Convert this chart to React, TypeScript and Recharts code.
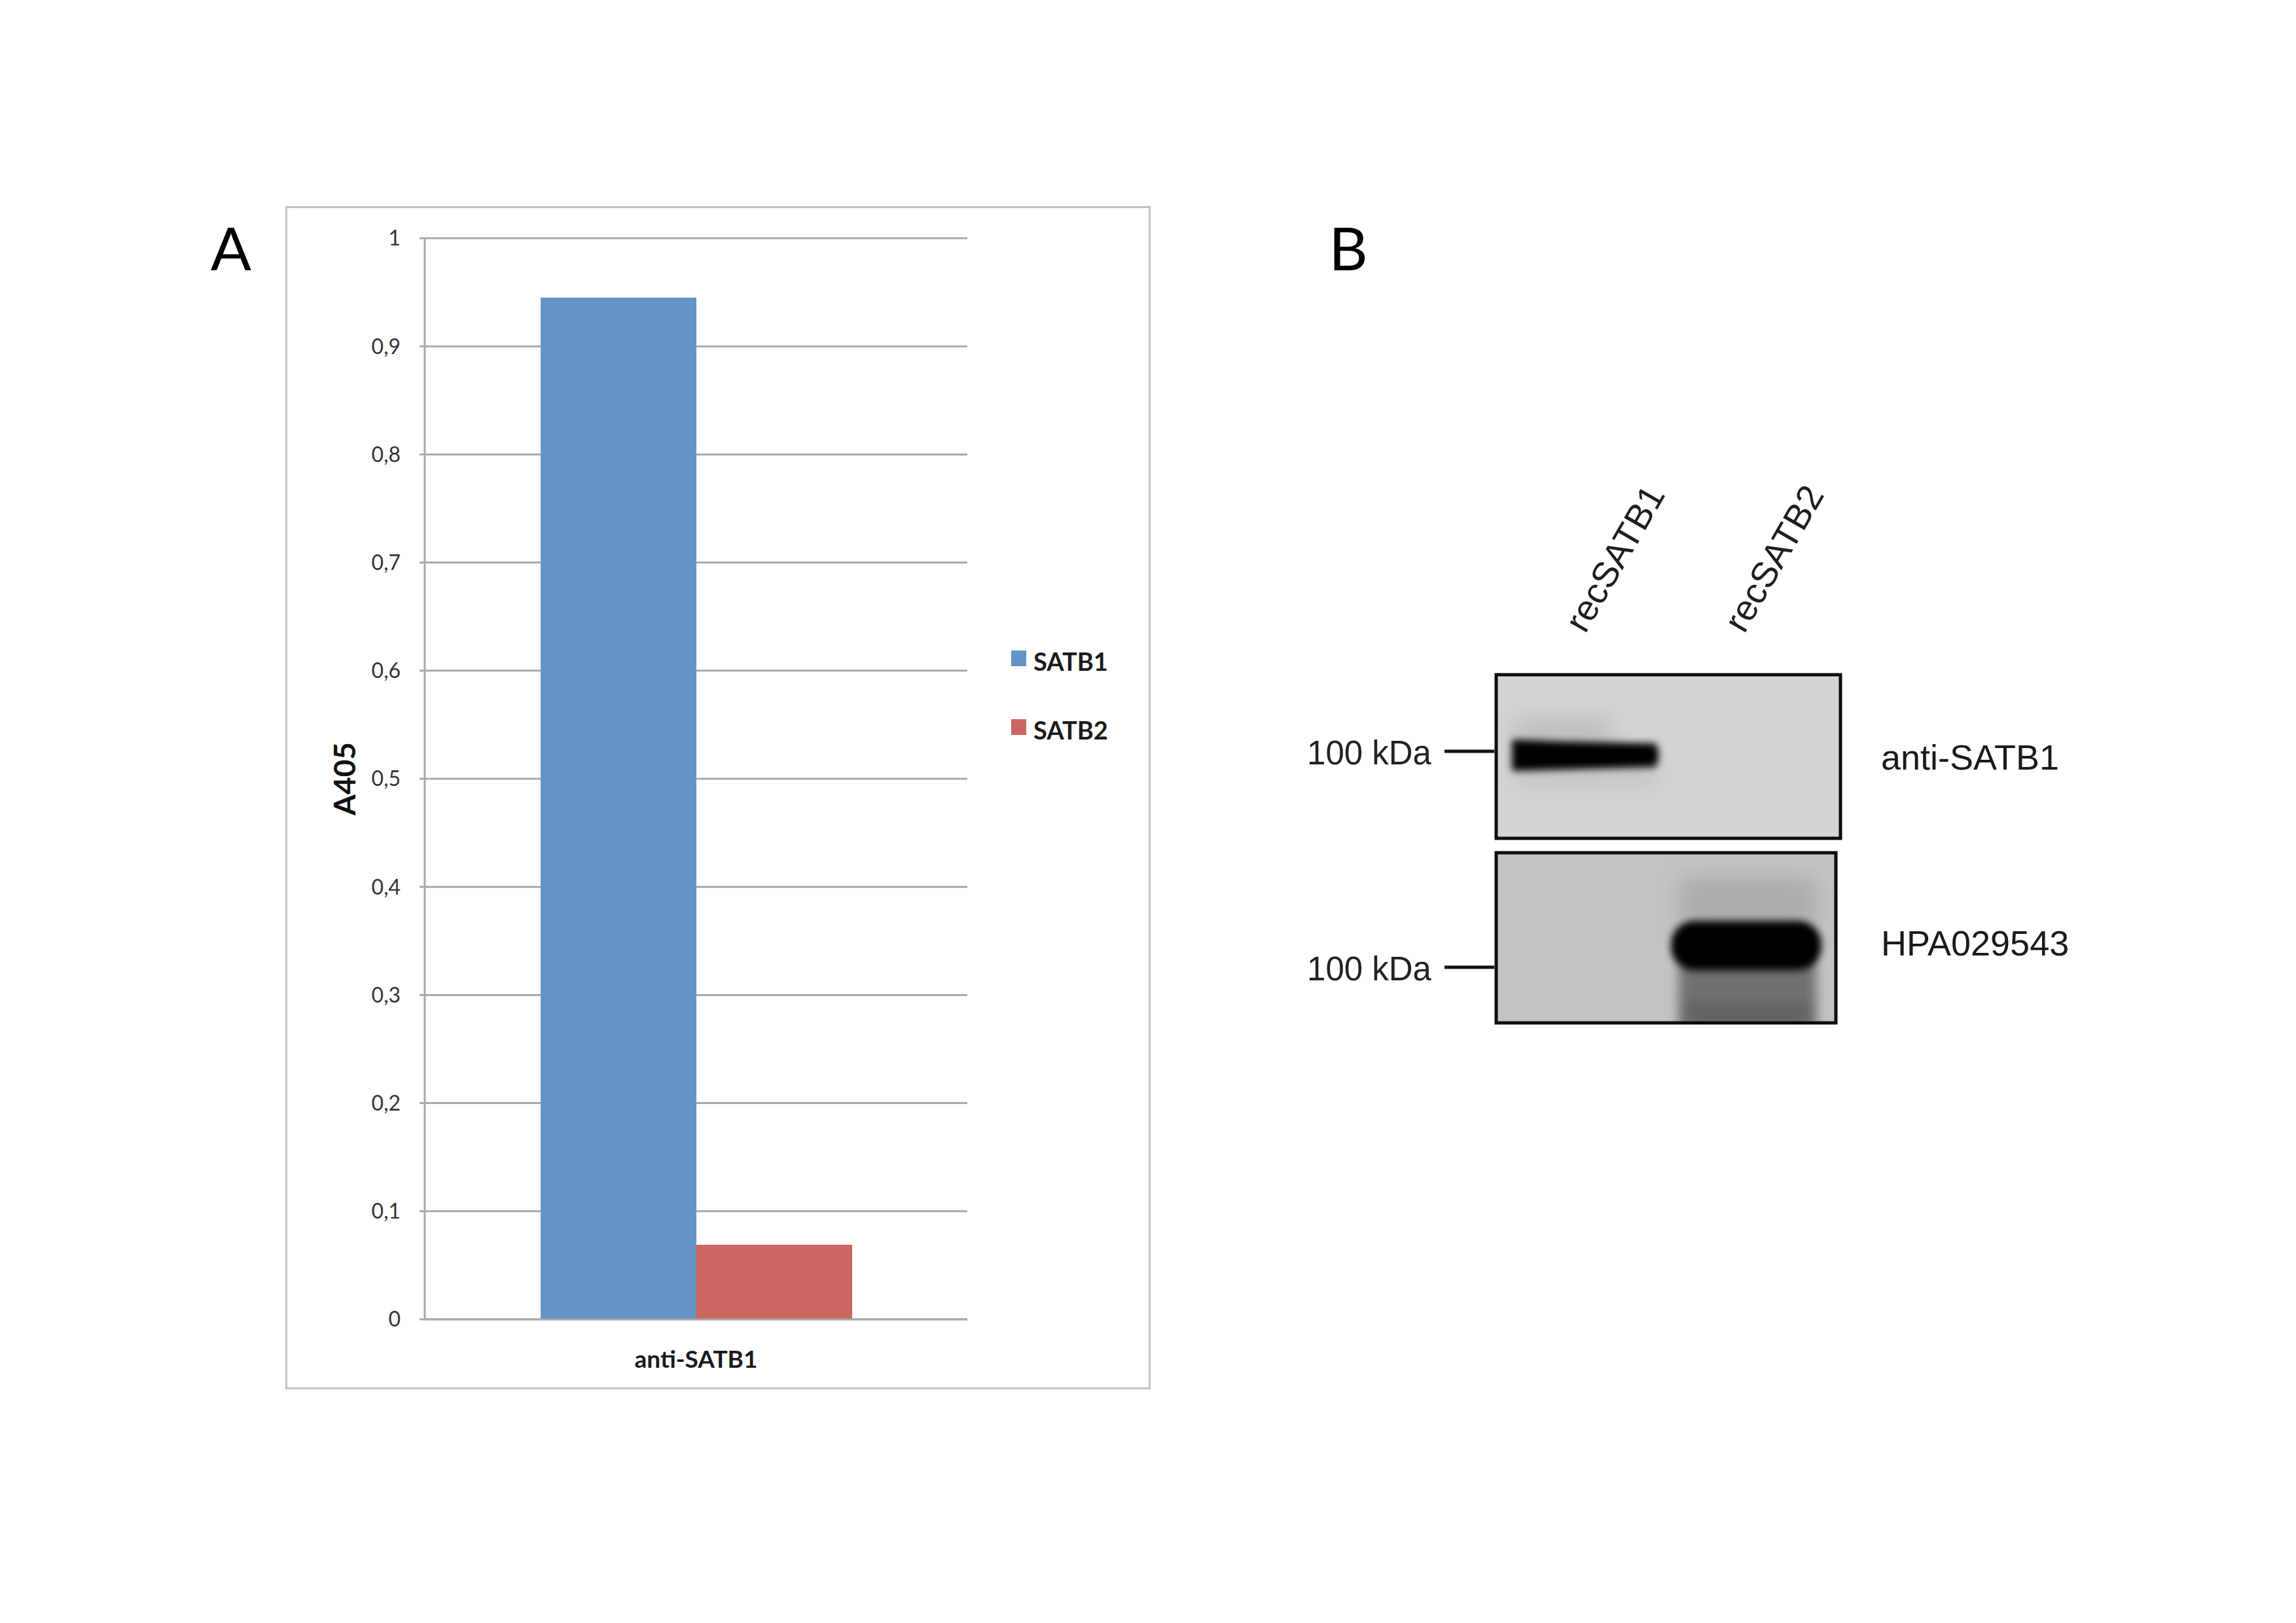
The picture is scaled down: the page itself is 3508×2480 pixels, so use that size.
import { Bar, BarChart, CartesianGrid, Legend, XAxis, YAxis } from 'recharts'

// panel A: ELISA
const categories = ['anti-SATB1']
const satb1Values = [0.945]
const satb2Values = [0.069]
const seriesNames = ['SATB1', 'SATB2']
const seriesColors = ['#6394c8', '#cd6660']
const yTicks = [0, 0.1, 0.2, 0.3, 0.4, 0.5, 0.6, 0.7, 0.8, 0.9, 1]

// panel B: western blot
const lanes = ['recSATB1', 'recSATB2']
const blotAntibodies = ['anti-SATB1', 'HPA029543']
const markerLabel = '100 kDa'
const antiSatb1Signal = [1, 0]
const hpaSignal = [0, 1]

const data = categories.map((c, i) => ({ category: c, SATB1: satb1Values[i], SATB2: satb2Values[i] }))

const GRID = '#a9a9a9'
const fmtTick = (v: number) => String(v).replace('.', ',')

function LegendContent({ payload }: any) {
  return (
    <div style={{ fontFamily: 'Lato', fontWeight: 700, fontSize: 38, color: '#1a1a1a' }}>
      {(payload || []).map((p: any) => (
        <div key={p.value} style={{ display: 'flex', alignItems: 'center', height: 50, marginBottom: 55 }}>
          <span style={{ width: 23, height: 24, background: p.color, marginRight: 11, marginTop: -8 }} />
          <span>{p.value}</span>
        </div>
      ))}
    </div>
  )
}

function Blot() {
  const laneX = (i: number) => 2422 + i * 243
  const boxes = [
    { x: 2286, y: 1031, w: 526, h: 250, bg: '#d4d4d4', markerY: 1148 },
    { x: 2286, y: 1303, w: 519, h: 260, bg: '#c3c3c3', markerY: 1478 },
  ]
  const signals = [antiSatb1Signal, hpaSignal]
  return (
    <g>
      <defs>
        {[3, 6, 9, 18].map((s) => (
          <filter key={s} id={`blur${s}`} x="-50%" y="-150%" width="200%" height="400%">
            <feGaussianBlur stdDeviation={s} />
          </filter>
        ))}
        {boxes.map((b, i) => (
          <clipPath key={i} id={`clip${i}`}>
            <rect x={b.x} y={b.y} width={b.w} height={b.h} />
          </clipPath>
        ))}
      </defs>

      {lanes.map((l, i) => (
        <text
          key={l}
          x={laneX(i) + 45}
          y={853}
          dy="0.35em"
          textAnchor="middle"
          transform={`rotate(-60 ${laneX(i) + 45} 853)`}
          fontFamily="Liberation Sans"
          fontSize={55}
          fill="#1e1e1e"
        >
          {l}
        </text>
      ))}

      {boxes.map((b, bi) => (
        <g key={bi}>
          <rect x={b.x} y={b.y} width={b.w} height={b.h} fill={b.bg} />
          <g clipPath={`url(#clip${bi})`}>
            {signals[bi].map((s, li) => {
              if (!s) return null
              const cx = laneX(li)
              if (bi === 0) {
                return (
                  <g key={li}>
                    <rect x={cx - 110} y={1100} width={150} height={40} fill="#9a9a9a" opacity={0.45} filter="url(#blur18)" />
                    <rect x={cx - 110} y={1168} width={220} height={28} fill="#a8a8a8" opacity={0.5} filter="url(#blur18)" />
                    <path
                      d={`M ${cx - 112} 1130 L ${cx - 40} 1133 L ${cx + 108} 1136 Q ${cx + 116} 1153 ${cx + 108} 1172 L ${cx - 40} 1176 L ${cx - 112} 1178 Z`}
                      fill="#020202"
                      filter="url(#blur6)"
                    />
                  </g>
                )
              }
              return (
                <g key={li}>
                  <rect x={cx - 100} y={1340} width={210} height={80} fill="#a2a2a2" opacity={0.7} filter="url(#blur18)" />
                  <rect x={cx - 100} y={1470} width={210} height={110} fill="#707070" filter="url(#blur9)" />
                  <rect x={cx - 90} y={1530} width={190} height={40} fill="#5e5e5e" opacity={0.6} filter="url(#blur9)" />
                  <rect x={cx - 112} y={1407} width={230} height={76} rx={36} fill="#020202" filter="url(#blur6)" />
                </g>
              )
            })}
          </g>
          <rect x={b.x} y={b.y} width={b.w} height={b.h} fill="none" stroke="#0d0d0d" strokeWidth={5} />
          <line x1={2207} x2={2283} y1={b.markerY} y2={b.markerY} stroke="#111" strokeWidth={5} />
          <text
            x={2187}
            y={b.markerY + 20}
            textAnchor="end"
            fontFamily="Liberation Sans"
            fontSize={51}
            fill="#222"
          >
            {markerLabel}
          </text>
          <text
            x={2874}
            y={bi === 0 ? 1176 : 1460}
            fontFamily="Liberation Sans"
            fontSize={54}
            fill="#1a1a1a"
          >
            {blotAntibodies[bi]}
          </text>
        </g>
      ))}
    </g>
  )
}

export default function App() {
  return (
    <div style={{ position: 'absolute', left: 0, top: 0, width: 3508, height: 2480, background: '#fff', overflow: 'hidden' }}>
      <svg width={3508} height={2480} style={{ position: 'absolute', left: 0, top: 0 }}>
        <text x={353} y={413} textAnchor="middle" fontFamily="Lato" fontSize={92} fill="#000">A</text>
        <text x={2060} y={413} textAnchor="middle" fontFamily="Lato" fontSize={92} fill="#000">B</text>
        <Blot />
      </svg>

      <div
        style={{
          position: 'absolute',
          left: 436,
          top: 315,
          width: 1322,
          height: 1808,
          border: '3px solid #c4c4c4',
          boxSizing: 'border-box',
        }}
      />
      <div style={{ position: 'absolute', left: 436, top: 315 }}>
        <BarChart
          width={1322}
          height={1808}
          data={data}
          margin={{ top: 49, right: 280, bottom: 0, left: 0 }}
          barCategoryGap="21.35%"
          barGap={0}
        >
          <CartesianGrid vertical={false} stroke={GRID} strokeWidth={3} />
          <XAxis
            dataKey="category"
            height={107}
            tickSize={0}
            tickMargin={48}
            tickLine={false}
            axisLine={{ stroke: GRID, strokeWidth: 3 }}
            tick={{ fontFamily: 'Lato', fontWeight: 700, fontSize: 37, fill: '#1a1a1a' }}
          />
          <YAxis
            width={213}
            domain={[0, 1]}
            ticks={yTicks}
            tickFormatter={fmtTick}
            tickSize={8}
            tickMargin={29}
            tickLine={{ stroke: GRID, strokeWidth: 3 }}
            axisLine={{ stroke: GRID, strokeWidth: 3 }}
            tick={{ fontFamily: 'Lato', fontSize: 32, fill: '#333' }}
            label={{
              value: 'A405',
              angle: -90,
              position: 'insideLeft',
              offset: 91,
              style: { textAnchor: 'middle', fontFamily: 'Lato', fontWeight: 700, fontSize: 46, fill: '#111' },
            }}
          />
          <Legend
            layout="vertical"
            align="center"
            verticalAlign="middle"
            wrapperStyle={{ left: 1109, top: 670, width: 220 }}
            content={LegendContent}
          />
          {seriesNames.map((name, i) => (
            <Bar key={name} dataKey={name} name={name} fill={seriesColors[i]} isAnimationActive={false} />
          ))}
        </BarChart>
      </div>
    </div>
  )
}
